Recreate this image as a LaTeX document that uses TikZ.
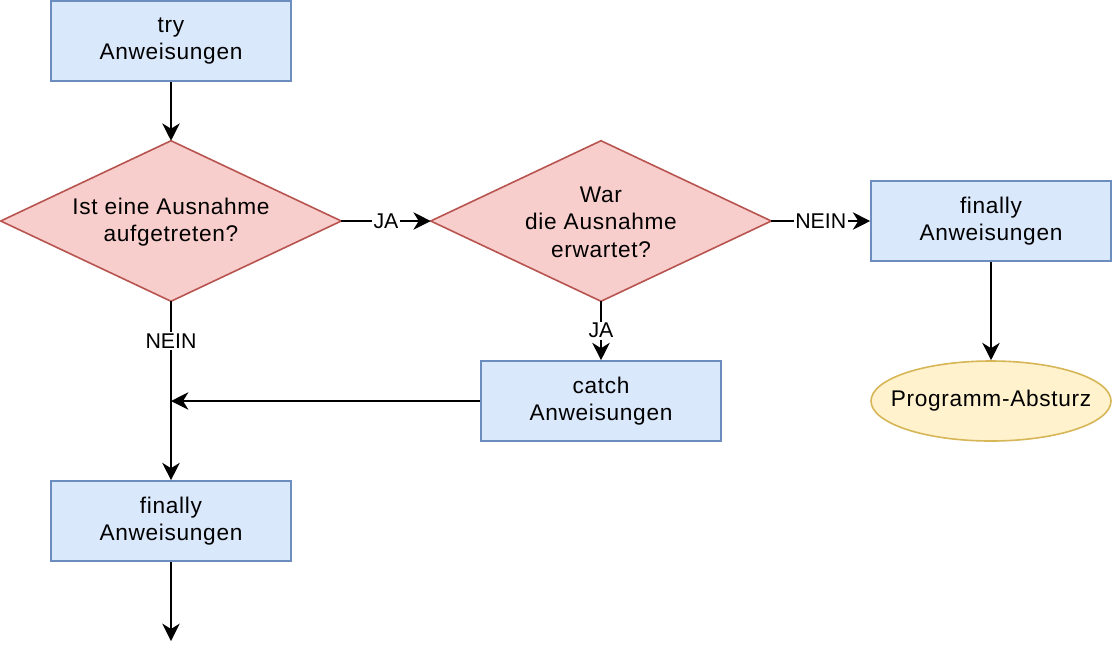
\documentclass[tikz,border=0pt]{standalone}
\usepackage{fontspec}
\setmainfont{Liberation Sans}[LetterSpace=3]
\newfontfamily\lblfont{Liberation Sans}
\usetikzlibrary{shapes.geometric,arrows.meta}
\definecolor{bfill}{HTML}{DAE8FC}
\definecolor{bdraw}{HTML}{6C8EBF}
\definecolor{rfill}{HTML}{F8CECC}
\definecolor{rdraw}{HTML}{B85450}
\definecolor{yfill}{HTML}{FFF2CC}
\definecolor{ydraw}{HTML}{D6B656}
\tikzset{
  txt/.style={font=\fontsize{17}{20.5}\selectfont, align=center},
  box/.style={txt, rectangle, draw=bdraw, fill=bfill, line width=1.2pt, minimum width=180pt, minimum height=60pt, inner sep=0pt},
  diabox/.style={rectangle, minimum width=255pt, minimum height=120pt, inner sep=0pt},
  diashape/.style={draw=rdraw, fill=rfill, line width=1.2pt, line join=miter},
  term/.style={txt, ellipse, draw=ydraw, fill=yfill, line width=1.2pt, minimum width=180pt, minimum height=60pt, inner xsep=-24pt, inner ysep=0pt},
  arr/.style={line width=1.5pt, -{Stealth[length=13pt, width=13pt, inset=4pt]}},
  lbl/.style={font=\lblfont\fontsize{16}{18}\selectfont, fill=white, inner sep=1pt}
}
\begin{document}
\begin{tikzpicture}[x=0.75pt, y=-0.75pt]
\useasboundingbox (0,0) rectangle (1112,658);
\node[diabox] (d1) at (171,221) {};
\node[diabox] (d2) at (601,221) {};
\draw[diashape] (d1.north) -- (d1.east) -- (d1.south) -- (d1.west) -- cycle;
\draw[diashape] (d2.north) -- (d2.east) -- (d2.south) -- (d2.west) -- cycle;
\node[txt] (t1) at (171,222) {Ist eine Ausnahme\\aufgetreten?};
\node[txt] (t2) at (601,222) {War\\die Ausnahme\\erwartet?};
\node[box] (try) at (171,41) {try\\Anweisungen};
\node[box] (fin2) at (991,221) {finally\\Anweisungen};
\node[term] (crash) at (991,401) {Programm-Absturz};
\node[box] (catch) at (601,401) {catch\\Anweisungen};
\node[box] (fin1) at (171,521) {finally\\Anweisungen};
\coordinate (join) at (171,401);
\coordinate (out) at (171,641);

\draw[arr] (try.south) -- (d1.north);
\draw[arr] (d1.east) -- node[lbl] {JA} (d2.west);
\draw[arr] (d2.east) -- node[lbl] {NEIN} (fin2.west);
\draw[arr] (fin2) -- (crash);
\draw[arr] (d2.south) -- node[lbl] {JA} (catch.north);
\draw[arr] (d1.south) -- node[lbl, pos=0.222] {NEIN} (fin1.north);
\draw[arr] (catch) -- (join);
\draw[arr] (fin1) -- (out);
\end{tikzpicture}
\end{document}
